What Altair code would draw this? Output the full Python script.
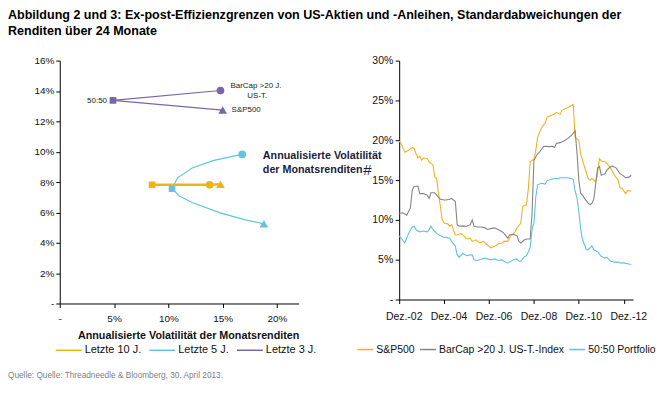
import altair as alt
import pandas as pd

TITLE_1 = "Abbildung 2 und 3: Ex-post-Effizienzgrenzen von US-Aktien und -Anleihen, Standardabweichungen der"
TITLE_2 = "Renditen über 24 Monate"
SOURCE = "Quelle: Quelle: Threadneedle & Bloomberg, 30. April 2013."
X_TITLE = "Annualisierte Volatilität der Monatsrenditen"
STRAY_1 = "Annualisierte Volatilität"
STRAY_2 = "der Monatsrenditen"

BASE = "Liberation Sans, Arial, sans-serif"

# ---------- left chart: efficient frontiers (x = volatility %, y = return %) ----------
frontier_series = ["Letzte 10 J.", "Letzte 5 J.", "Letzte 3 J."]
frontier_colors = ["#EEB416", "#63C5DD", "#7A65A9"]

f10_x = [8.5, 13.8, 14.8]
f10_y = [7.82, 7.82, 7.86]
f5_x = [16.8, 15.9, 14.1, 12.2, 10.85, 10.34, 11.0, 12.2, 14.7, 17.1, 18.8]
f5_y = [9.82, 9.69, 9.41, 8.93, 8.28, 7.56, 7.08, 6.65, 5.99, 5.51, 5.25]
f3_x = [14.8, 4.9, 15.0]
f3_y = [14.03, 13.38, 12.74]

marker_kinds = ["50:50", "BarCap", "S&P500"]
mk_series = ["Letzte 10 J."] * 3 + ["Letzte 5 J."] * 3 + ["Letzte 3 J."] * 3
mk_kind = marker_kinds * 3
mk_x = [8.5, 13.8, 14.8, 10.34, 16.8, 18.8, 4.9, 14.8, 15.0]
mk_y = [7.82, 7.82, 7.86, 7.56, 9.82, 5.25, 13.38, 14.03, 12.74]

ann_text = ["50:50", "BarCap >20 J.", "US-T.", "S&P500"]
ann_x = [4.9, 14.8, 14.8, 15.0]
ann_y = [13.38, 14.03, 14.03, 12.74]

# ---------- right chart: rolling 24M volatility, month index 0 = Dez.-02 ----------
ts_series = ["S&P500", "BarCap >20 J. US-T.-Index", "50:50 Portfolio"]
ts_colors = ["#F0B323", "#858585", "#5EC3DC"]
x_tick_labels = ["Dez.-02", "Dez.-04", "Dez.-06", "Dez.-08", "Dez.-10", "Dez.-12"]

spx_m = [0, 1, 3, 5, 7, 8, 9, 10, 11, 12, 13, 15, 16, 18, 19, 20, 21, 22, 23, 24, 26, 27, 28,
         30, 31, 33, 35, 36, 38, 39, 41, 43, 45, 47, 49, 51, 53, 55, 56, 58, 60, 62, 63, 65,
         66, 68, 69, 70, 71, 72, 73, 74, 76, 77, 78, 79, 81, 83, 84, 86, 87, 89, 91, 93, 94,
         96, 97, 99, 101, 102, 103, 105, 106, 107, 108, 110, 111, 113, 115, 117, 118, 119,
         121, 122, 124]
spx_v = [19.9, 19.6, 18.5, 18.75, 19.1, 19.0, 18.3, 17.8, 18.0, 17.5, 17.8, 17.7, 17.3, 16.9,
         15.4, 15.2, 13.3, 11.7, 10.0, 9.6, 9.5, 9.2, 9.4, 8.1, 8.1, 8.3, 7.9, 7.6, 7.7, 7.3,
         7.5, 7.1, 7.3, 6.9, 6.5, 6.7, 7.0, 7.1, 7.3, 7.3, 8.1, 8.5, 9.0, 9.6, 11.7, 11.9,
         13.9, 17.3, 17.5, 17.6, 18.75, 20.4, 21.5, 21.9, 22.1, 22.9, 23.1, 23.3, 23.5, 23.25,
         23.75, 24.0, 24.2, 24.5, 20.4, 20.0, 18.3, 16.7, 15.2, 15.0, 15.2, 14.8, 15.8, 17.7,
         17.4, 17.3, 17.1, 16.5, 15.6, 15.0, 14.0, 14.0, 13.3, 13.7, 13.6]

bar_m = [0, 2, 4, 6, 7, 8, 10, 11, 13, 15, 16, 17, 19, 20, 22, 24, 25, 27, 28, 30, 31, 32, 34,
         36, 38, 39, 40, 42, 44, 46, 47, 49, 51, 53, 55, 56, 58, 59, 61, 63, 64, 65, 67, 68,
         70, 71, 72, 74, 75, 77, 78, 80, 82, 83, 84, 86, 88, 90, 92, 93, 94, 95, 96, 97, 98,
         99, 101, 102, 103, 104, 105, 106, 107, 108, 110, 111, 113, 114, 116, 118, 120, 121,
         123, 124]
bar_v = [10.8, 10.9, 10.6, 11.5, 13.75, 14.2, 14.25, 13.3, 13.3, 13.1, 12.7, 13.4, 13.4, 13.1,
         12.6, 12.5, 12.5, 12.6, 12.7, 12.3, 9.4, 9.2, 9.25, 9.2, 9.4, 10.0, 9.2, 9.1, 9.1,
         9.0, 8.8, 8.9, 9.0, 8.75, 8.5, 8.3, 7.7, 8.1, 8.2, 8.0, 7.3, 7.1, 7.5, 7.6, 7.6, 10.8,
         17.5, 18.3, 18.5, 19.2, 19.25, 19.2, 19.25, 19.1, 19.6, 19.7, 19.9, 20.2, 20.6, 20.9,
         21.2, 18.5, 15.0, 13.3, 13.1, 12.7, 12.1, 11.9, 12.1, 12.6, 14.5, 16.5, 16.7, 15.6,
         15.8, 16.25, 16.7, 16.75, 16.5, 15.8, 15.5, 15.3, 15.4, 15.6]

p50_m = [0, 1, 3, 5, 7, 8, 9, 11, 13, 15, 16, 17, 18, 20, 22, 24, 25, 27, 28, 30, 31, 32, 34,
         36, 38, 39, 40, 42, 44, 46, 47, 49, 51, 53, 55, 56, 58, 59, 61, 63, 64, 65, 67, 68,
         70, 71, 72, 73, 74, 76, 78, 79, 81, 83, 85, 86, 88, 90, 92, 93, 94, 95, 96, 97, 98,
         100, 101, 102, 103, 104, 106, 108, 110, 111, 113, 115, 117, 118, 120, 122, 124]
p50_v = [8.0, 7.7, 7.1, 8.3, 9.1, 9.2, 8.75, 8.5, 8.6, 8.5, 8.75, 9.2, 8.8, 8.3, 8.0, 7.8,
         7.8, 7.7, 7.3, 6.7, 5.6, 5.3, 5.8, 5.5, 5.6, 5.6, 5.0, 4.9, 5.1, 5.2, 5.1, 5.0, 5.1,
         4.9, 5.0, 4.8, 4.6, 4.7, 5.0, 5.1, 4.8, 4.8, 5.4, 5.5, 6.5, 8.8, 9.6, 12.9, 14.4,
         14.6, 14.5, 14.9, 15.1, 15.2, 15.2, 15.3, 15.3, 15.3, 15.2, 15.1, 13.6, 12.8, 11.0,
         8.8, 7.5, 6.25, 6.25, 6.5, 6.75, 6.25, 6.0, 5.4, 5.2, 5.3, 4.8, 4.7, 4.7, 4.6, 4.6,
         4.5, 4.4]

# ---------- data frames ----------
rows = []
for s, xs, ys in zip(frontier_series, [f10_x, f5_x, f3_x], [f10_y, f5_y, f3_y]):
    for i, (a, b) in enumerate(zip(xs, ys)):
        rows.append({"series": s, "i": i, "x": a, "y": b})
front_df = pd.DataFrame(rows)
marker_df = pd.DataFrame({"series": mk_series, "kind": mk_kind, "x": mk_x, "y": mk_y})

rows = []
for s, ms, vs in zip(ts_series, [spx_m, bar_m, p50_m], [spx_v, bar_v, p50_v]):
    for a, b in zip(ms, vs):
        rows.append({"series": s, "m": a, "v": b})
ts_df = pd.DataFrame(rows)

# ---------- left chart ----------
LW, LH = 240, 244
xsc = alt.Scale(domain=[0, 22], nice=False)
ysc = alt.Scale(domain=[0, 16], nice=False)
x_axis = alt.Axis(values=[0, 5, 10, 15, 20],
                  labelExpr="datum.value == 0 ? '-' : datum.value + '%'",
                  title=X_TITLE, titleFontWeight="bold", titleFontSize=10.8, titleColor="#111",
                  titleX=129, titlePadding=6, tickSize=4, labelPadding=6, grid=False,
                  labelFontSize=10, labelOverlap=False, labelFlush=False)
y_axis = alt.Axis(values=[0, 2, 4, 6, 8, 10, 12, 14, 16],
                  labelExpr="datum.value == 0 ? '-' : datum.value + '%'",
                  title=None, tickSize=4, labelPadding=2, grid=False, labelFontSize=10,
                  labelOverlap=False, labelFlush=False)
X_ENC = alt.X("x:Q", scale=xsc, axis=x_axis)
Y_ENC = alt.Y("y:Q", scale=ysc, axis=y_axis)
fcolor = alt.Scale(domain=frontier_series, range=frontier_colors)
left_legend = alt.Legend(title=None, orient="none", legendX=-5, legendY=277, direction="horizontal",
                         symbolType="stroke", symbolSize=676, symbolStrokeWidth=1.5,
                         labelFontSize=11, labelOffset=2, columnPadding=5, padding=0)

base_l = alt.Chart(front_df)
thin = base_l.transform_filter(alt.datum.series != "Letzte 10 J.").mark_line(strokeWidth=1.2).encode(
    x=X_ENC, y=Y_ENC,
    color=alt.Color("series:N", scale=fcolor, legend=left_legend),
    order="i:Q",
)
thick = base_l.transform_filter(alt.datum.series == "Letzte 10 J.").mark_line(strokeWidth=2.5).encode(
    x=X_ENC, y=Y_ENC,
    color=alt.Color("series:N", scale=fcolor, legend=left_legend),
    order="i:Q",
)
markers = alt.Chart(marker_df).mark_point(filled=True, opacity=1).encode(
    x=X_ENC, y=Y_ENC,
    fill=alt.Fill("series:N", scale=fcolor, legend=None),
    shape=alt.Shape("kind:N", scale=alt.Scale(domain=marker_kinds, range=["square", "circle", "triangle-up"]), legend=None),
    size=alt.Size("kind:N", scale=alt.Scale(domain=marker_kinds, range=[45, 75, 100]), legend=None),
)

ann_style = [(-6, 1, "right"), (10, -5, "left"), (37, 6, "center"), (9, 0, "left")]
ann_layers = []
for t, ax, ay, (dx, dy, al) in zip(ann_text, ann_x, ann_y, ann_style):
    ann_layers.append(
        alt.Chart(pd.DataFrame({"t": [t], "x": [ax], "y": [ay]})).mark_text(
            fontSize=8, dx=dx, dy=dy, align=al, baseline="middle", color="#222", font=BASE
        ).encode(x=X_ENC, y=Y_ENC, text="t:N")
    )

def px_text(t, x, y, **kw):
    return alt.Chart(pd.DataFrame({"t": [t]})).mark_text(**kw).encode(
        x=alt.value(x), y=alt.value(y), text="t:N")

stray1 = px_text(STRAY_1, 204, 96, fontSize=10.8, fontWeight="bold", align="left",
                 baseline="middle", color="#1c1c3c", font=BASE)
stray2 = px_text(STRAY_2, 204, 110, fontSize=10.8, fontWeight="bold", align="left",
                 baseline="middle", color="#1c1c3c", font=BASE)
stray3 = px_text("#", 309, 110, fontSize=15, align="center", baseline="middle",
                 color="#1c1c3c", font=BASE)
title1 = px_text(TITLE_1, -52, -42, fontSize=12.6, fontWeight="bold", align="left",
                 baseline="alphabetic", color="#000", font=BASE)
title2 = px_text(TITLE_2, -52, -26, fontSize=12.6, fontWeight="bold", align="left",
                 baseline="alphabetic", color="#000", font=BASE)
source = px_text(SOURCE, -52, 317, fontSize=8.3, align="left", baseline="middle",
                 color="#7f7f7f", font=BASE)

left = alt.layer(thin, thick, markers, *ann_layers, stray1, stray2, stray3, title1, title2,
                 source).properties(width=LW, height=LH)

# ---------- right chart ----------
tick_expr = "[" + ",".join("'" + s + "'" for s in x_tick_labels) + "][round(datum.value / 24)]"
right = alt.Chart(ts_df).mark_line(strokeWidth=1.1).encode(
    x=alt.X("m:Q", scale=alt.Scale(domain=[0, 125], nice=False),
            axis=alt.Axis(values=[0, 24, 48, 72, 96, 120], labelExpr=tick_expr, title=None,
                          tickSize=4, labelPadding=8.5, labelOffset=4.5, grid=False, labelFontSize=10.5,
                          labelOverlap=False, labelFlush=False)),
    y=alt.Y("v:Q", scale=alt.Scale(domain=[0, 30], nice=False),
            axis=alt.Axis(values=[0, 5, 10, 15, 20, 25, 30],
                          labelExpr="datum.value == 0 ? '-' : datum.value + '%'",
                          title=None, tickSize=4, labelPadding=2.5, grid=False, labelFontSize=10.5,
                          labelOverlap=False, labelFlush=False)),
    color=alt.Color("series:N", scale=alt.Scale(domain=ts_series, range=ts_colors),
                    legend=alt.Legend(title=None, orient="none", legendX=-43, legendY=281,
                                      direction="horizontal", symbolType="stroke", symbolSize=256,
                                      symbolStrokeWidth=1.5, labelFontSize=10.5, labelOffset=2,
                                      columnPadding=2, padding=0)),
).properties(width=235, height=240)

chart = alt.hconcat(left, right, spacing=101, bounds="flush").resolve_scale(
    color="independent", fill="independent"
).properties(padding=0).configure_view(stroke=None).configure_axis(
    labelFont=BASE, titleFont=BASE, domainColor="#000", tickColor="#000", labelColor="#111",
    domainWidth=1, tickWidth=1
).configure_legend(labelFont=BASE, labelColor="#111")

chart.save("out.html", embed_options={"renderer": "svg", "actions": False})
